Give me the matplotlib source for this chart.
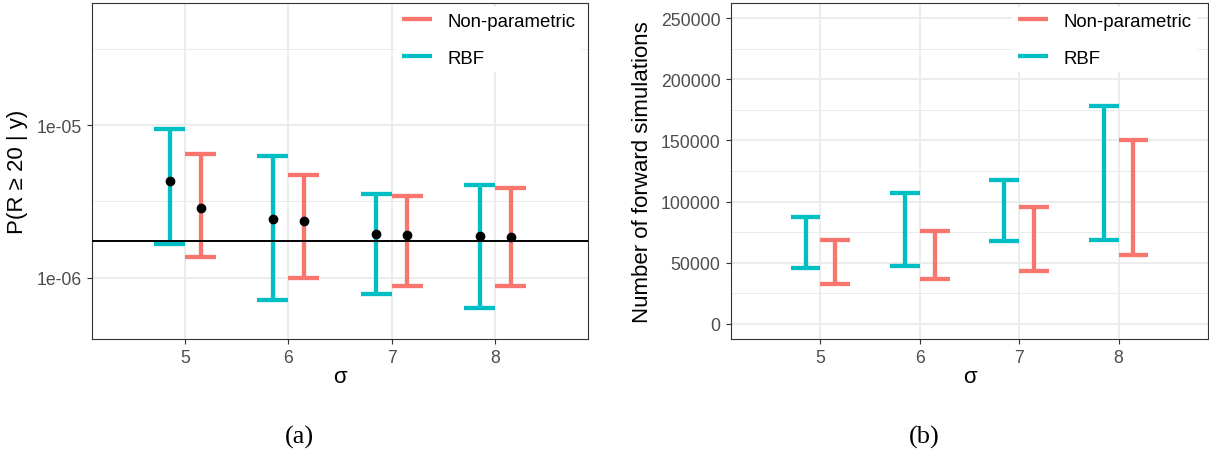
import numpy as np
import matplotlib
matplotlib.use("Agg")
import matplotlib.pyplot as plt
from matplotlib.lines import Line2D

plt.rcParams['font.family'] = ['Liberation Sans', 'DejaVu Sans']

# data
sigma = [5, 6, 7, 8]
methods = ["Non-parametric", "RBF"]
colors = {"Non-parametric": "#F8766D", "RBF": "#00BFC4"}
offsets = {"Non-parametric": 0.15, "RBF": -0.15}

# panel (a): probability estimates with intervals
prob_est = {"RBF": [4.27e-6, 2.42e-6, 1.93e-6, 1.88e-6],
            "Non-parametric": [2.86e-6, 2.34e-6, 1.91e-6, 1.86e-6]}
prob_lo = {"RBF": [1.67e-6, 7.16e-7, 7.87e-7, 6.30e-7],
           "Non-parametric": [1.37e-6, 9.9e-7, 8.83e-7, 8.79e-7]}
prob_hi = {"RBF": [9.38e-6, 6.30e-6, 3.52e-6, 4.03e-6],
           "Non-parametric": [6.49e-6, 4.73e-6, 3.41e-6, 3.87e-6]}
true_prob = 1.75e-6

# panel (b): number of forward simulations
sims_lo = {"RBF": [45800, 47200, 67400, 68700],
           "Non-parametric": [32200, 36300, 43100, 56400]}
sims_hi = {"RBF": [87500, 106600, 117300, 178300],
           "Non-parametric": [68700, 75600, 95700, 150000]}

W, H = 1209, 452
fig = plt.figure(figsize=(W / 100, H / 100), dpi=100)
axA = fig.add_axes([92 / W, 1 - 340 / H, 496 / W, 336 / H])
axB = fig.add_axes([731 / W, 1 - 340 / H, 477 / W, 336 / H])

grid_c = "#EBEBEB"
lw_bar = 3.1
half = 0.15


def draw_bars(ax, lo, hi):
    for m in ["RBF", "Non-parametric"]:
        xs = np.array(sigma) + offsets[m]
        ax.vlines(xs, lo[m], hi[m], color=colors[m], lw=lw_bar, zorder=3)
        ax.hlines(lo[m], xs - half, xs + half, color=colors[m], lw=lw_bar, zorder=3)
        ax.hlines(hi[m], xs - half, xs + half, color=colors[m], lw=lw_bar, zorder=3)


def style(ax, anchor_x):
    ax.set_xlim(4.1, 8.9)
    ax.set_xticks(sigma)
    ax.set_xticklabels([str(s) for s in sigma])
    ax.grid(True, which="major", color=grid_c, lw=1.3, zorder=0)
    ax.grid(True, which="minor", axis="y", color=grid_c, lw=0.7, zorder=0)
    ax.set_axisbelow(True)
    for s in ax.spines.values():
        s.set_color("#333333")
        s.set_linewidth(0.8)
    ax.tick_params(which="major", length=3.5, width=0.8, color="#333333",
                   labelcolor="#4D4D4D", labelsize=12.7, pad=4.0)
    ax.tick_params(which="minor", length=0)
    ax.set_xlabel("σ", fontsize=16, va="center")
    ax.xaxis.set_label_coords(0.5, -38 / 336)
    handles = [Line2D([], [], color=colors[m], lw=lw_bar, solid_capstyle="butt") for m in methods]
    leg = ax.legend(handles, methods, loc="upper right", fontsize=13.4,
                    bbox_to_anchor=(anchor_x, 1 - 4 / 336),
                    frameon=True, facecolor="white", edgecolor="none", framealpha=1,
                    fancybox=False, handlelength=1.6, handletextpad=0.85,
                    borderpad=0.3, borderaxespad=0, labelspacing=1.08)
    leg.set_zorder(5)
    return leg


# panel (a)
draw_bars(axA, prob_lo, prob_hi)
axA.axhline(true_prob, color="black", lw=1.4, zorder=4)
for m in ["RBF", "Non-parametric"]:
    axA.plot(np.array(sigma) + offsets[m], prob_est[m], "o", color="black",
             ms=6, zorder=5)
axA.set_yscale("log")
axA.set_ylim(10 ** -6.401, 10 ** -4.201)
axA.set_yticks([1e-6, 1e-5])
axA.set_yticklabels(["1e-06", "1e-05"])
axA.yaxis.set_minor_locator(matplotlib.ticker.FixedLocator([10 ** -5.5, 10 ** -4.5, 10 ** -6.5]))
axA.yaxis.set_minor_formatter(matplotlib.ticker.NullFormatter())
style(axA, (581 - 92) / 496)
axA.set_ylabel("P(R ≥ 20 | y)", fontsize=16, va="center")
axA.yaxis.set_label_coords((18 - 92) / 496, 0.5)

# panel (b)
draw_bars(axB, sims_lo, sims_hi)
axB.set_ylim(-12500, 262500)
axB.set_yticks(np.arange(0, 250001, 50000))
axB.set_yticklabels([str(v) for v in range(0, 250001, 50000)])
axB.yaxis.set_minor_locator(matplotlib.ticker.FixedLocator(np.arange(25000, 250001, 50000)))
style(axB, (1197 - 731) / 477)
axB.set_ylabel("Number of forward simulations", fontsize=16, va="center")
axB.yaxis.set_label_coords((643 - 731) / 477, 0.5)

fig.text(299 / W, 1 - 437 / H, "(a)", family="Liberation Serif", fontsize=19,
         ha="center", va="center")
fig.text(924 / W, 1 - 437 / H, "(b)", family="Liberation Serif", fontsize=19,
         ha="center", va="center")

fig.savefig("out.png", dpi=100)
